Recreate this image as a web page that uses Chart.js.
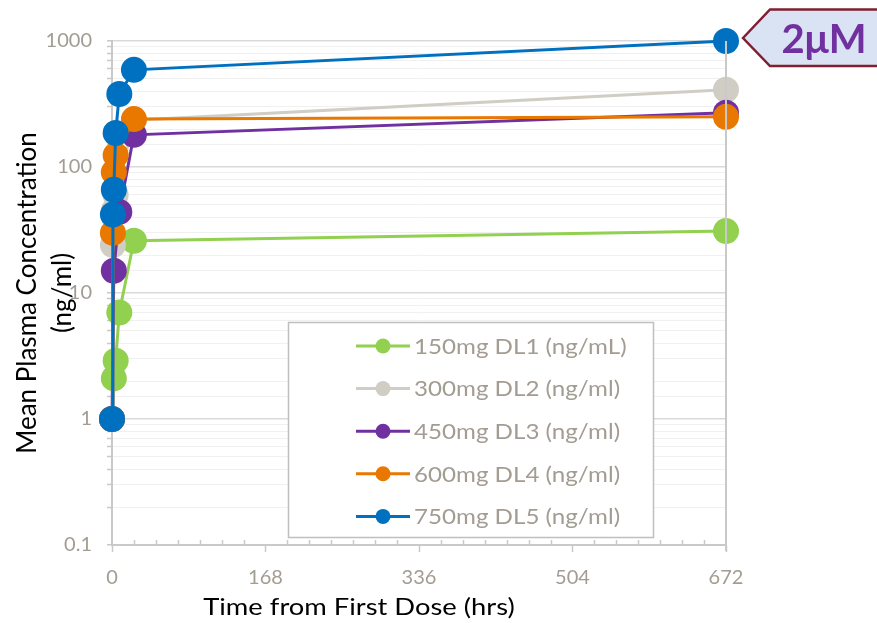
<!DOCTYPE html>
<html><head><meta charset="utf-8">
<script src="https://cdn.jsdelivr.net/npm/chart.js@4/dist/chart.umd.min.js"></script>
<style>html,body{margin:0;padding:0;background:#fff}#wrap{width:877px;height:623px;position:relative}</style>
</head><body><div id="wrap"><canvas id="c" width="877" height="623"></canvas></div>
<script>
const seriesLabels = ['150mg DL1 (ng/mL)','300mg DL2 (ng/ml)','450mg DL3 (ng/ml)','600mg DL4 (ng/ml)','750mg DL5 (ng/ml)'];
const seriesColors = ['#92d050','#d0cdc4','#7030a0','#e87800','#0070c0'];
const timesDL1 = [0, 2, 4, 8, 24, 672];
const valuesDL1 = [1, 2.1, 2.9, 7.0, 26, 31];
const timesDL2 = [0, 1, 2, 4, 24, 672];
const valuesDL2 = [1, 24, 45, 60, 235, 410];
const timesDL3 = [0, 2, 8, 24, 672];
const valuesDL3 = [1, 15, 44, 180, 270];
const timesDL4 = [0, 1, 2, 4, 24, 672];
const valuesDL4 = [1, 30, 91, 124, 240, 250];
const timesDL5 = [0, 1, 2, 4, 8, 24, 672];
const valuesDL5 = [1, 42, 66, 186, 380, 590, 1000];
const xTickLabels = [0, 168, 336, 504, 672];
const yTickLabels = [0.1, 1, 10, 100, 1000];
const xTitle = 'Time from First Dose (hrs)';
const yTitle = ['Mean Plasma Concentration', '(ng/ml)'];
const calloutText = '2\u03bcM';

const allTimes = [timesDL1, timesDL2, timesDL3, timesDL4, timesDL5];
const allValues = [valuesDL1, valuesDL2, valuesDL3, valuesDL4, valuesDL5];
const drawOrder = [4, 3, 2, 1, 0];

const FONT = 'Lato, "Open Sans", sans-serif';
const TICK_COLOR = '#a39c92';
const AXIS_COLOR = '#c9c9c9';

function isMajorY(v){ return yTickLabels.some(t => Math.abs(t - v) < t * 1e-6); }
function isMajorX(v){ return xTickLabels.indexOf(v) >= 0; }

const datasets = seriesLabels.map((lab, i) => ({
  label: lab,
  data: allTimes[i].map((t, j) => ({x: t, y: allValues[i][j]})),
  borderColor: seriesColors[i],
  backgroundColor: seriesColors[i],
  pointBackgroundColor: seriesColors[i],
  pointBorderColor: seriesColors[i],
  pointBorderWidth: 0,
  pointRadius: 13,
  pointHoverRadius: 13,
  borderWidth: 3,
  tension: 0,
  clip: false,
  order: drawOrder[i]
}));

const extras = {
  id: 'extras',
  afterDraw(chart) {
    const ctx = chart.ctx;
    const a = chart.chartArea;
    const xs = chart.scales.x;
    ctx.save();
    ctx.strokeStyle = AXIS_COLOR; ctx.lineWidth = 2;
    ctx.beginPath(); ctx.moveTo(a.right, a.top); ctx.lineTo(a.right, a.bottom + 6); ctx.stroke();
    ctx.lineWidth = 1.5;
    xs.ticks.forEach(t => {
      if (!isMajorX(t.value)) {
        const px = Math.round(xs.getPixelForValue(t.value)) + 0.5;
        ctx.beginPath(); ctx.moveTo(px, a.bottom); ctx.lineTo(px, a.bottom - 5); ctx.stroke();
      }
    });
    ctx.restore();

    // x axis title
    ctx.save();
    ctx.fillStyle = '#000';
    ctx.font = '24px ' + FONT;
    ctx.textAlign = 'center'; ctx.textBaseline = 'middle';
    ctx.translate(359, 607);
    ctx.scale(1.14, 1);
    ctx.fillText(xTitle, 0, 0);
    ctx.restore();

    // legend box
    ctx.save();
    const L = {x: 288, y: 322, w: 365, h: 215};
    ctx.fillStyle = '#ffffff';
    ctx.fillRect(L.x, L.y, L.w, L.h);
    ctx.strokeStyle = '#bfbfbf'; ctx.lineWidth = 1.5;
    ctx.strokeRect(L.x + 0.5, L.y + 0.5, L.w, L.h);
    ctx.font = '21px ' + FONT;
    ctx.textBaseline = 'middle';
    ctx.textAlign = 'left';
    seriesLabels.forEach((lab, i) => {
      const y = 346 + i * 42.6;
      ctx.strokeStyle = seriesColors[i]; ctx.lineWidth = 3;
      ctx.beginPath(); ctx.moveTo(356, y); ctx.lineTo(410, y); ctx.stroke();
      ctx.fillStyle = seriesColors[i];
      ctx.beginPath(); ctx.arc(383, y, 7.5, 0, Math.PI * 2); ctx.fill();
      ctx.fillStyle = TICK_COLOR;
      ctx.save();
      ctx.translate(414, y + 1);
      ctx.scale(1.15, 1);
      ctx.fillText(lab, 0, 0);
      ctx.restore();
    });
    ctx.restore();

    // callout
    ctx.save();
    ctx.beginPath();
    ctx.moveTo(743, 38);
    ctx.lineTo(770, 9.5);
    ctx.lineTo(880, 9.5);
    ctx.lineTo(880, 66);
    ctx.lineTo(770, 66);
    ctx.closePath();
    ctx.fillStyle = '#dae3f3';
    ctx.fill();
    ctx.strokeStyle = '#7f1f2f'; ctx.lineWidth = 2.5;
    ctx.stroke();
    ctx.fillStyle = '#7030a0';
    ctx.font = 'bold 40px ' + FONT;
    ctx.textAlign = 'center'; ctx.textBaseline = 'middle';
    ctx.fillText(calloutText, 824, 40);
    ctx.restore();
  }
};

new Chart(document.getElementById('c'), {
  type: 'line',
  data: { datasets },
  options: {
    responsive: false,
    animation: false,
    events: [],
    layout: { padding: { left: 0, right: 151, top: 41, bottom: 0 } },
    plugins: { legend: { display: false }, tooltip: { enabled: false } },
    scales: {
      x: {
        type: 'linear', min: 0, max: 672,
        afterFit(s) { s.height = 78; },
        ticks: {
          stepSize: 24, autoSkip: false, maxRotation: 0, padding: 14,
          color: TICK_COLOR, font: { family: FONT, size: 20 },
          callback: v => isMajorX(v) ? String(v) : ''
        },
        grid: {
          drawOnChartArea: false, tickLength: 7, tickWidth: 1.5,
          tickColor: c => isMajorX(c.tick.value) ? AXIS_COLOR : 'rgba(0,0,0,0)'
        },
        border: { color: AXIS_COLOR, width: 2 },
        title: { display: false }
      },
      y: {
        type: 'logarithmic', min: 0.1, max: 1000,
        afterFit(s) { s.width = 112; },
        ticks: {
          autoSkip: false, padding: 15,
          color: TICK_COLOR, font: { family: FONT, size: 20 },
          callback: v => isMajorY(v) ? String(yTickLabels.find(t => Math.abs(t - v) < t * 1e-6)) : ''
        },
        grid: {
          color: c => isMajorY(c.tick.value) ? '#d9d9d9' : '#f0f0f0',
          lineWidth: c => isMajorY(c.tick.value) ? 1.5 : 1,
          tickLength: 5, tickColor: AXIS_COLOR, tickWidth: 1.5
        },
        border: { color: AXIS_COLOR, width: 2 },
        title: {
          display: true, text: yTitle, color: '#000',
          font: { family: FONT, size: 26, lineHeight: 1.35 }, padding: { top: 10, bottom: 0 }
        }
      }
    }
  },
  plugins: [extras]
});
</script>
</body></html>
